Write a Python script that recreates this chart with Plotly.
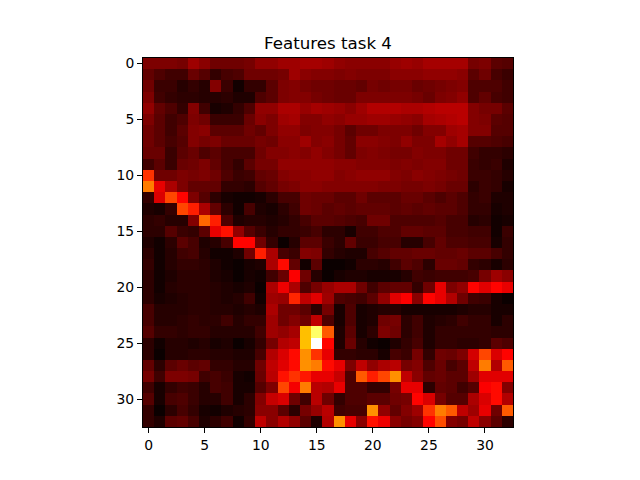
import plotly.graph_objects as go

# heat values, 0-100 scale, one list per row
row_00 = [17,17,17,16,22,19,15,15,15,16,20,20,22,22,23,23,22,20,19,19,19,19,21,22,21,23,23,23,23,16,17,12,11]
row_01 = [13,10,8,8,14,11,6,9,10,15,15,15,16,22,19,18,18,17,18,17,17,17,19,19,19,20,20,20,19,12,15,9,7]
row_02 = [15,7,7,4,6,4,18,7,1,6,6,12,17,18,16,15,15,14,14,13,16,15,16,16,14,15,16,17,18,10,10,10,8]
row_03 = [17,8,6,5,5,4,4,5,3,3,10,12,17,18,18,16,15,14,14,17,17,17,17,17,16,14,17,18,20,10,13,9,8]
row_04 = [20,13,10,6,18,8,2,3,6,10,20,20,24,24,21,23,22,21,19,22,25,25,25,24,24,25,26,26,26,18,16,16,12]
row_05 = [17,12,8,10,17,15,7,7,7,14,19,17,22,23,18,18,20,19,21,21,22,22,21,20,19,23,24,25,26,18,17,12,11]
row_06 = [15,12,8,12,18,19,12,12,12,15,13,17,20,20,17,18,18,16,12,15,15,17,17,17,15,18,18,22,23,18,18,11,11]
row_07 = [15,12,9,11,18,16,17,14,14,14,16,15,19,19,22,18,19,16,13,19,19,18,17,20,17,17,23,20,23,11,11,10,9]
row_08 = [14,14,7,12,14,10,12,9,9,9,15,18,18,19,18,20,18,16,13,17,18,17,16,16,18,17,17,15,15,8,6,6,5]
row_09 = [8,12,7,14,15,17,13,9,6,12,16,16,20,20,20,20,20,19,19,18,18,18,17,18,17,18,18,15,15,7,6,7,3]
row_10 = [44,15,15,17,16,17,15,10,7,8,13,14,18,19,19,20,20,18,19,20,20,20,18,17,19,18,17,16,15,7,7,6,4]
row_11 = [55,33,24,17,13,13,13,6,6,5,11,13,16,17,19,19,18,18,18,18,18,17,17,16,16,17,16,14,14,5,7,6,2]
row_12 = [6,31,47,37,17,11,5,2,1,1,2,5,9,9,15,14,14,12,12,15,12,12,12,14,14,12,10,12,10,6,7,3,3]
row_13 = [3,2,6,47,41,24,13,5,1,9,3,2,5,8,15,14,12,13,12,13,13,13,12,13,12,13,12,12,10,6,6,2,3]
row_14 = [5,6,4,4,18,52,41,10,3,4,4,3,4,6,9,12,12,11,10,9,15,15,10,10,10,10,11,9,9,4,5,1,2]
row_15 = [5,5,11,7,6,12,33,39,20,11,7,4,6,6,7,9,5,5,2,8,8,10,10,13,13,12,12,9,9,8,8,1,7]
row_16 = [3,1,5,12,9,3,4,9,37,37,15,6,0,4,12,12,7,5,13,7,7,9,9,4,4,9,13,10,10,9,9,2,6]
row_17 = [5,1,4,8,9,4,1,1,3,15,41,24,9,7,18,17,6,4,3,3,9,11,13,13,14,14,13,13,14,12,12,9,6]
row_18 = [6,1,4,6,6,5,3,1,0,2,3,24,38,13,1,12,0,0,1,5,5,4,8,12,10,5,14,14,13,6,5,2,5]
row_19 = [5,1,3,5,5,5,3,2,0,2,1,8,14,36,15,4,0,2,3,3,2,2,2,4,8,7,8,8,8,9,16,22,19]
row_20 = [5,1,4,5,5,5,4,3,2,3,0,24,34,24,10,16,21,24,24,15,8,12,13,13,6,15,33,17,20,37,32,37,33]
row_21 = [5,2,3,4,5,5,4,3,4,8,1,22,21,42,27,32,22,10,9,8,12,20,32,36,19,37,33,25,15,8,7,2,0]
row_22 = [9,4,4,4,5,5,4,4,3,4,3,24,15,15,12,5,16,2,10,2,3,4,4,2,2,2,2,2,3,4,4,2,2]
row_23 = [9,4,4,5,6,5,5,8,4,6,6,22,15,18,15,27,10,2,10,2,3,15,16,5,8,3,4,5,8,6,6,2,5]
row_24 = [11,6,6,5,6,6,4,4,4,4,8,22,20,23,65,85,50,3,12,2,5,17,15,5,8,3,6,6,6,6,6,5,5]
row_25 = [5,1,4,4,3,4,2,3,0,2,6,16,25,27,65,100,37,3,14,4,1,0,3,6,9,3,6,6,5,5,6,12,10]
row_26 = [5,0,4,4,5,5,4,4,3,3,9,25,31,38,58,44,33,6,6,5,5,2,9,7,16,6,15,14,17,30,47,31,37]
row_27 = [13,5,12,14,12,13,6,6,4,4,15,27,32,38,58,55,38,33,17,27,20,24,26,16,18,10,14,9,12,27,55,25,50]
row_28 = [16,8,17,17,16,8,9,7,2,1,14,26,39,44,40,33,33,28,10,50,41,47,58,27,19,13,14,12,12,22,32,32,32]
row_29 = [8,2,6,8,7,4,9,8,2,2,11,17,47,35,55,26,25,33,10,10,6,6,16,33,33,5,13,12,8,11,36,38,18]
row_30 = [11,2,9,10,7,4,4,8,2,5,18,28,31,15,8,26,15,6,10,10,12,12,15,16,37,31,16,11,11,24,31,38,25]
row_31 = [6,0,5,9,6,2,1,3,4,5,19,19,12,5,16,21,26,8,9,9,58,20,13,18,22,44,55,50,27,22,33,15,50]
row_32 = [6,3,12,13,9,3,5,8,1,6,27,19,25,20,12,3,25,58,33,19,39,34,19,16,18,37,48,18,16,27,19,12,5]

tick_vals_x = [0, 5, 10, 15, 20, 25, 30]
tick_vals_y = [0, 5, 10, 15, 20, 25, 30]
title_text = 'Features task 4'

z = [row_00, row_01, row_02, row_03, row_04, row_05, row_06, row_07, row_08, row_09, row_10,
     row_11, row_12, row_13, row_14, row_15, row_16, row_17, row_18, row_19, row_20, row_21,
     row_22, row_23, row_24, row_25, row_26, row_27, row_28, row_29, row_30, row_31, row_32]

# matplotlib's "hot"
hot = [[0.0, 'rgb(11,0,0)'],
       [0.365, 'rgb(255,0,0)'],
       [0.746, 'rgb(255,255,0)'],
       [1.0, 'rgb(255,255,255)']]

fig = go.Figure(go.Heatmap(z=z, zmin=0, zmax=100, colorscale=hot, showscale=False, zsmooth=False))

axis_style = dict(
    range=[-0.5, 32.5],
    tickmode='array',
    ticks='outside',
    ticklen=5,
    tickwidth=1,
    tickcolor='black',
    showgrid=False,
    zeroline=False,
    showline=True,
    linecolor='black',
    linewidth=1,
    mirror=True,
    tickfont=dict(family='DejaVu Sans', size=13.9, color='black'),
)

fig.update_xaxes(tickvals=tick_vals_x, **axis_style)
fig.update_yaxes(tickvals=tick_vals_y, **axis_style)
fig.update_yaxes(range=[32.5, -0.5])

# the page body adds 8px on the top and left, so the figure is 8px smaller
fig.update_layout(
    width=632,
    height=472,
    autosize=False,
    margin=dict(l=135.2, r=127.2, t=49.6, b=52.8, pad=0),
    paper_bgcolor='white',
    plot_bgcolor='white',
    title=dict(text=title_text, x=0.5, xanchor='center', y=0.9258, yanchor='middle',
               font=dict(family='DejaVu Sans', size=16.67, color='black')),
)
fig.update_layout(title_x=(328 - 8) / 632)

fig.write_html("out.html")
